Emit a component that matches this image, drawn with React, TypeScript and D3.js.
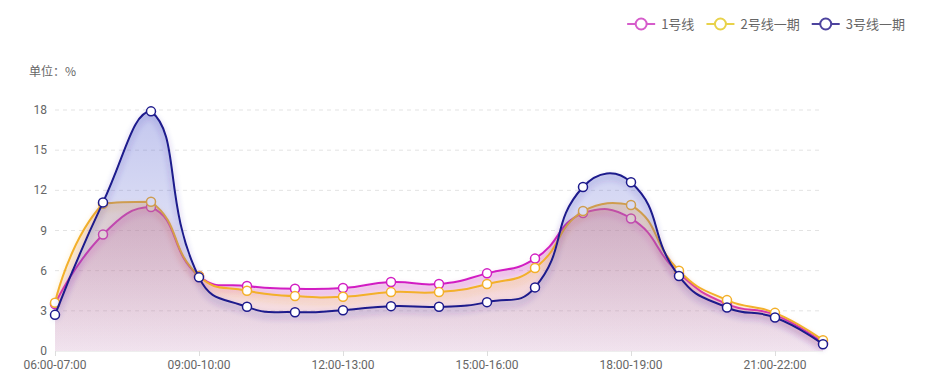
import React from 'react';
import * as d3 from 'd3';

const categories = [
  '06:00-07:00', '07:00-08:00', '08:00-09:00', '09:00-10:00', '10:00-11:00', '11:00-12:00',
  '12:00-13:00', '13:00-14:00', '14:00-15:00', '15:00-16:00', '16:00-17:00', '17:00-18:00',
  '18:00-19:00', '19:00-20:00', '20:00-21:00', '21:00-22:00', '22:00-23:00',
];
const line1Values = [3.5, 8.7, 10.75, 5.6, 4.85, 4.65, 4.7, 5.15, 5.0, 5.8, 6.9, 10.3, 9.9, 5.8, 3.5, 2.7, 0.6];
const line2Values = [3.6, 11.0, 11.15, 5.6, 4.5, 4.1, 4.05, 4.4, 4.4, 5.0, 6.2, 10.45, 10.9, 6.0, 3.8, 2.85, 0.8];
const line3Values = [2.7, 11.1, 17.9, 5.5, 3.3, 2.9, 3.05, 3.35, 3.3, 3.65, 4.75, 12.25, 12.6, 5.6, 3.25, 2.5, 0.5];
const seriesNames = ['1号线', '2号线一期', '3号线一期'];
const yTicks = [0, 3, 6, 9, 12, 15, 18];
const unitLabel = '单位：%';

const W = 940;
const H = 389;
const FONT = '"Noto Sans CJK SC", "Noto Sans", sans-serif';
const NUM_FONT = 'Roboto, "Liberation Sans", sans-serif';

const styles = [
  { line: '#d21fc3', legend: '#d65ccb', area: [195, 90, 180], a0: 0.3, a1: 0.12, shadow: '#d21fc3' },
  { line: '#f3b02a', legend: '#e8d24a', area: [252, 175, 90], a0: 0.3, a1: 0.04, shadow: '#f3b02a' },
  { line: '#1d1a8c', legend: '#4d439e', area: [80, 90, 205], a0: 0.34, a1: 0.04, shadow: '#3b2fb0' },
];

type P = [number, number];

function smoothCurve(pts: P[], smooth: number, path: d3.Path) {
  let minX = Infinity, minY = Infinity, maxX = -Infinity, maxY = -Infinity;
  pts.forEach(([x, y]) => {
    minX = Math.min(minX, x); maxX = Math.max(maxX, x);
    minY = Math.min(minY, y); maxY = Math.max(maxY, y);
  });
  const clamp = (p: P): P => [Math.min(Math.max(p[0], minX), maxX), Math.min(Math.max(p[1], minY), maxY)];
  const n = pts.length;
  const cpIn: P[] = [];
  const cpOut: P[] = [];
  for (let i = 0; i < n; i++) {
    const p = pts[i];
    if (i === 0 || i === n - 1) {
      cpIn.push([p[0], p[1]]);
      cpOut.push([p[0], p[1]]);
      continue;
    }
    const prev = pts[i - 1];
    const next = pts[i + 1];
    const vx = (next[0] - prev[0]) * smooth;
    const vy = (next[1] - prev[1]) * smooth;
    let d0 = Math.hypot(p[0] - prev[0], p[1] - prev[1]);
    let d1 = Math.hypot(next[0] - p[0], next[1] - p[1]);
    const s = d0 + d1;
    if (s !== 0) { d0 /= s; d1 /= s; }
    cpIn.push(clamp([p[0] - vx * d0, p[1] - vy * d0]));
    cpOut.push(clamp([p[0] + vx * d1, p[1] + vy * d1]));
  }
  path.moveTo(pts[0][0], pts[0][1]);
  for (let i = 1; i < n; i++) {
    path.bezierCurveTo(cpOut[i - 1][0], cpOut[i - 1][1], cpIn[i][0], cpIn[i][1], pts[i][0], pts[i][1]);
  }
}

export default function App() {
  const x = d3.scalePoint<string>().domain(categories).range([55, 823]);
  const y = d3.scaleLinear().domain([0, 18]).range([351, 110]);
  const allSeries = [line1Values, line2Values, line3Values];

  const textW = (s: string, fs: number) =>
    Array.from(s).reduce((acc, ch) => acc + (/[\u4e00-\u9fff\uff00-\uffef]/.test(ch) ? fs : fs * 0.56), 0);

  const legendFs = 13;
  const iconW = 28;
  const legendRight = 905;
  const legendItems: { iconX: number; textX: number; name: string; color: string }[] = [];
  let cursor = legendRight;
  for (let i = seriesNames.length - 1; i >= 0; i--) {
    const tw = textW(seriesNames[i], legendFs);
    const textX = cursor - tw;
    const iconX = textX - 6 - iconW;
    legendItems.unshift({ iconX, textX, name: seriesNames[i], color: styles[i].legend });
    cursor = iconX - 12;
  }

  return (
    <svg width={W} height={H} style={{ position: 'absolute', left: 0, top: 0, background: '#fff' }} fontFamily={FONT}>
      <defs>
        {styles.map((st, i) => {
          const vals = allSeries[i];
          const top = y(d3.max(vals) as number);
          return (
            <linearGradient key={i} id={`ag${i}`} gradientUnits="userSpaceOnUse" x1={0} y1={top} x2={0} y2={351}>
              <stop offset="0%" stopColor={`rgb(${st.area.join(',')})`} stopOpacity={st.a0} />
              <stop offset="100%" stopColor={`rgb(${st.area.join(',')})`} stopOpacity={st.a1} />
            </linearGradient>
          );
        })}
        {styles.map((st, i) => (
          <filter key={i} id={`sh${i}`} x="-10%" y="-20%" width="120%" height="140%">
            <feDropShadow dx={0} dy={4} stdDeviation={3} floodColor={st.shadow} floodOpacity={0.45} />
          </filter>
        ))}
      </defs>

      <text x={29} y={76} fontSize={12} fill="#666">{unitLabel}</text>

      {yTicks.filter((t) => t > 0).map((t) => (
        <line key={t} x1={55} x2={823} y1={y(t)} y2={y(t)} stroke="#e3e3e3" strokeDasharray="4 4" />
      ))}
      {yTicks.map((t) => (
        <text key={t} x={47} y={y(t) + 4} fontSize={12} fill="#666" textAnchor="end" fontFamily={NUM_FONT}>{t}</text>
      ))}

      {allSeries.map((vals, i) => {
        const pts: P[] = vals.map((v, k) => [x(categories[k]) as number, y(v)]);
        const lp = d3.path();
        smoothCurve(pts, 0.5, lp);
        const ap = d3.path();
        smoothCurve(pts, 0.5, ap);
        ap.lineTo(pts[pts.length - 1][0], y(0));
        ap.lineTo(pts[0][0], y(0));
        ap.closePath();
        return (
          <g key={i}>
            <path d={ap.toString()} fill={`url(#ag${i})`} stroke="none" />
            <path d={lp.toString()} fill="none" stroke={styles[i].line} strokeWidth={2} filter={`url(#sh${i})`} />
            {pts.map((p, k) => (
              <circle key={k} cx={p[0]} cy={p[1]} r={4.5} fill="#fff" stroke={styles[i].line} strokeWidth={1.5} />
            ))}
          </g>
        );
      })}

      <line x1={55} x2={823} y1={351.5} y2={351.5} stroke="#eeeeee" />
      {categories.map((c, k) =>
        k % 3 === 0 ? (
          <g key={c}>
            <line x1={(x(c) as number) + 0.5} x2={(x(c) as number) + 0.5} y1={351} y2={356} stroke="#dddddd" />
            <text x={x(c)} y={369} fontSize={12} fill="#666" textAnchor="middle" fontFamily={NUM_FONT}>{c}</text>
          </g>
        ) : null
      )}

      {legendItems.map((it) => (
        <g key={it.name}>
          <line x1={it.iconX} x2={it.iconX + iconW} y1={24} y2={24} stroke={it.color} strokeWidth={2} />
          <circle cx={it.iconX + iconW / 2} cy={24} r={5.5} fill="#fff" stroke={it.color} strokeWidth={2} />
          <text x={it.textX} y={28.5} fontSize={legendFs} fill="#666">{it.name}</text>
        </g>
      ))}
    </svg>
  );
}
